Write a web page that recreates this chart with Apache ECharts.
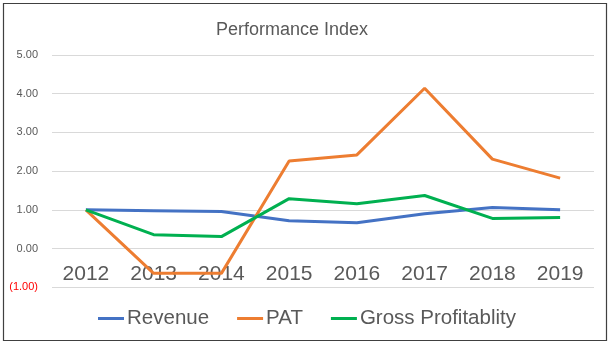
<!DOCTYPE html>
<html>
<head>
<meta charset="utf-8">
<script src="https://cdn.jsdelivr.net/npm/echarts@6/dist/echarts.min.js"></script>
<style>
html,body{margin:0;padding:0;background:#fff;}
#chart{width:614px;height:346px;}
</style>
</head>
<body>
<div id="chart"></div>
<script>
var categories = ['2012','2013','2014','2015','2016','2017','2018','2019'];
var revenue = [1.00, 0.98, 0.96, 0.72, 0.67, 0.90, 1.06, 1.00];
var pat = [1.00, -0.64, -0.64, 2.26, 2.42, 4.14, 2.31, 1.82];
var grossProfitability = [1.00, 0.36, 0.31, 1.29, 1.16, 1.37, 0.78, 0.80];
var seriesNames = ['Revenue', 'PAT', 'Gross Profitablity'];
var seriesColors = ['#4472C4', '#ED7D31', '#00B050'];

var chart = echarts.init(document.getElementById('chart'), null, {renderer: 'canvas'});
var font = 'Liberation Sans, Arial, sans-serif';
function mk(name, data, color) {
  return {
    name: name, type: 'line', data: data, symbol: 'none',
    lineStyle: {color: color, width: 3}, itemStyle: {color: color},
    animation: false
  };
}
chart.setOption({
  animation: false,
  graphic: [{
    type: 'rect', silent: true,
    shape: {x: 3.5, y: 3.5, width: 603, height: 337},
    style: {fill: 'none', stroke: '#404040', lineWidth: 1.2}
  }],
  title: {
    text: 'Performance Index', left: 211, top: 16,
    textStyle: {fontFamily: font, fontSize: 18, fontWeight: 'normal', color: '#595959'}
  },
  legend: {
    data: seriesNames, left: 'center', top: 303, itemGap: 28,
    itemWidth: 26, itemHeight: 3, icon: 'rect',
    textStyle: {fontFamily: font, fontSize: 20.5, color: '#595959', padding: [0,0,0,-2]}
  },
  grid: {left: 52, right: 20, top: 55, bottom: 58.7, containLabel: false},
  xAxis: {
    type: 'category', data: categories, boundaryGap: true, offset: -38.7,
    axisLine: {show: false, onZero: false},
    axisTick: {show: false},
    axisLabel: {fontFamily: font, fontSize: 21, color: '#595959', margin: 15}
  },
  yAxis: {
    type: 'value', min: -1, max: 5, interval: 1,
    axisLine: {show: false}, axisTick: {show: false},
    splitLine: {lineStyle: {color: '#D9D9D9', width: 1}},
    axisLabel: {
      fontFamily: font, fontSize: 11, color: '#595959', margin: 14,
      formatter: function (v) {
        if (v < 0) return '{neg|(' + Math.abs(v).toFixed(2) + ')}';
        return v.toFixed(2);
      },
      rich: {neg: {color: '#FF0000', fontFamily: font, fontSize: 11}}
    }
  },
  series: [
    mk(seriesNames[0], revenue, seriesColors[0]),
    mk(seriesNames[1], pat, seriesColors[1]),
    mk(seriesNames[2], grossProfitability, seriesColors[2])
  ]
});
</script>
</body>
</html>
